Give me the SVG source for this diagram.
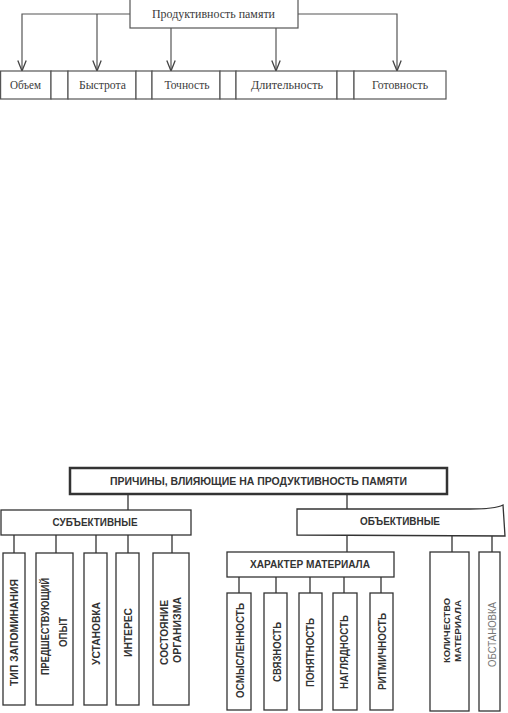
<svg xmlns="http://www.w3.org/2000/svg" width="508" height="713" viewBox="0 0 508 713">
<defs>
<marker id="arr" markerWidth="12" markerHeight="10" refX="11" refY="5" orient="auto" markerUnits="userSpaceOnUse" viewBox="0 0 12 10">
<path d="M0.5,0.8 L11,5 L0.5,9.2" fill="none" stroke="#444" stroke-width="1.3"/>
</marker>
</defs>
<style>
.b1{fill:#fff;stroke:#555;stroke-width:1.2}
.t1{font-family:"Liberation Serif",serif;font-size:12px;fill:#3a3a3a;text-anchor:middle}
.b2{fill:#fff;stroke:#333;stroke-width:1.3}
.t2{font-family:"Liberation Sans",Arial,sans-serif;font-weight:bold;font-size:10.5px;fill:#333;text-anchor:middle}
.c1{fill:none;stroke:#555;stroke-width:1.2}
.c2{fill:none;stroke:#333;stroke-width:1.3}
</style>
<rect width="508" height="713" fill="#fff"/>

<g id="connectors">
<path class="c1" d="M130,14 H22 V71" marker-end="url(#arr)"/>
<path class="c1" d="M97,14 V71" marker-end="url(#arr)"/>
<path class="c1" d="M171,28 V71" marker-end="url(#arr)"/>
<path class="c1" d="M276,28 V71" marker-end="url(#arr)"/>
<path class="c1" d="M298,14 H397 V71" marker-end="url(#arr)"/>

<path class="c2" d="M128,494 V510"/>
<path class="c2" d="M347,494 V509"/>
<path class="c2" d="M14,535 V553 M56,535 V553 M96,535 V553 M128,535 V553 M172,535 V553"/>
<path class="c2" d="M347,535 V552 M452,535 V552 M492,535 V552"/>
<path class="c2" d="M239,577 V593 M276,577 V593 M310,577 V593 M344,577 V593 M381,577 V593"/>
</g>

<g id="productivity">
<rect class="b1" x="130" y="-1" width="168" height="29"/>
<text class="t1" x="213.5" y="18" textLength="123" lengthAdjust="spacingAndGlyphs">Продуктивность памяти</text>
</g>
<g id="volume"><rect class="b1" x="0.6" y="71" width="50.4" height="28"/><text class="t1" x="25.5" y="89" textLength="31" lengthAdjust="spacingAndGlyphs">Объем</text></g>
<g id="gap1"><rect class="b1" x="51" y="71" width="17" height="28"/></g>
<g id="speed"><rect class="b1" x="68" y="71" width="68" height="28"/><text class="t1" x="102.5" y="89" textLength="47" lengthAdjust="spacingAndGlyphs">Быстрота</text></g>
<g id="gap2"><rect class="b1" x="136" y="71" width="16" height="28"/></g>
<g id="accuracy"><rect class="b1" x="152" y="71" width="68" height="28"/><text class="t1" x="187" y="89" textLength="45" lengthAdjust="spacingAndGlyphs">Точность</text></g>
<g id="gap3"><rect class="b1" x="220" y="71" width="16" height="28"/></g>
<g id="duration"><rect class="b1" x="236" y="71" width="101" height="28"/><text class="t1" x="287" y="89" textLength="72" lengthAdjust="spacingAndGlyphs">Длительность</text></g>
<g id="gap4"><rect class="b1" x="337" y="71" width="17" height="28"/></g>
<g id="readiness"><rect class="b1" x="354" y="71" width="92" height="28"/><text class="t1" x="400" y="89" textLength="56" lengthAdjust="spacingAndGlyphs">Готовность</text></g>

<g id="causes">
<rect fill="#fff" stroke="#333" stroke-width="2.5" x="70" y="468" width="377" height="26"/>
<text class="t2" x="258.5" y="484.5" style="font-size:10px" textLength="297" lengthAdjust="spacingAndGlyphs">ПРИЧИНЫ, ВЛИЯЮЩИЕ НА ПРОДУКТИВНОСТЬ ПАМЯТИ</text>
</g>
<g id="subjective">
<rect class="b2" x="1" y="510" width="190" height="25"/>
<text class="t2" x="95" y="526" style="font-size:10.5px" textLength="85" lengthAdjust="spacingAndGlyphs">СУБЪЕКТИВНЫЕ</text>
</g>
<g id="objective">
<path class="b2" d="M297,509 L470,509 Q495,509 503,505 L505,536 L297,535 Z"/>
<text class="t2" x="400" y="525" style="font-size:10px" textLength="80" lengthAdjust="spacingAndGlyphs">ОБЪЕКТИВНЫЕ</text>
</g>

<g id="memtype"><rect class="b2" x="3" y="553" width="22" height="152"/>
<text class="t2" transform="translate(18,632.5) rotate(-90)" textLength="107" lengthAdjust="spacingAndGlyphs">ТИП ЗАПОМИНАНИЯ</text></g>
<g id="experience"><rect class="b2" x="36" y="553" width="37" height="152"/>
<text class="t2" transform="translate(49,626.5) rotate(-90)" textLength="97" lengthAdjust="spacingAndGlyphs">ПРЕДШЕСТВУЮЩИЙ</text>
<text class="t2" transform="translate(67,632) rotate(-90)" textLength="30" lengthAdjust="spacingAndGlyphs">ОПЫТ</text></g>
<g id="setting"><rect class="b2" x="84" y="553" width="23" height="152"/>
<text class="t2" transform="translate(100,633.5) rotate(-90)" textLength="63" lengthAdjust="spacingAndGlyphs">УСТАНОВКА</text></g>
<g id="interest"><rect class="b2" x="116" y="553" width="23" height="152"/>
<text class="t2" transform="translate(132,632.5) rotate(-90)" textLength="49" lengthAdjust="spacingAndGlyphs">ИНТЕРЕС</text></g>
<g id="state"><rect class="b2" x="153" y="553" width="36" height="152"/>
<text class="t2" transform="translate(167.5,632.5) rotate(-90)" textLength="65" lengthAdjust="spacingAndGlyphs">СОСТОЯНИЕ</text>
<text class="t2" transform="translate(180.5,630) rotate(-90)" textLength="66" lengthAdjust="spacingAndGlyphs">ОРГАНИЗМА</text></g>

<g id="material">
<rect class="b2" x="227" y="552" width="167" height="25"/>
<text class="t2" x="310" y="568" style="font-size:10px" textLength="120" lengthAdjust="spacingAndGlyphs">ХАРАКТЕР МАТЕРИАЛА</text>
</g>
<g id="meaning"><rect class="b2" x="227" y="593" width="24" height="117"/>
<text class="t2" transform="translate(244,650.5) rotate(-90)" textLength="95" lengthAdjust="spacingAndGlyphs">ОСМЫСЛЕННОСТЬ</text></g>
<g id="coherence"><rect class="b2" x="264" y="593" width="23" height="117"/>
<text class="t2" transform="translate(281,652) rotate(-90)" textLength="60" lengthAdjust="spacingAndGlyphs">СВЯЗНОСТЬ</text></g>
<g id="clarity"><rect class="b2" x="299" y="593" width="23" height="117"/>
<text class="t2" transform="translate(314,652.5) rotate(-90)" textLength="69" lengthAdjust="spacingAndGlyphs">ПОНЯТНОСТЬ</text></g>
<g id="visual"><rect class="b2" x="333" y="593" width="24" height="117"/>
<text class="t2" transform="translate(348,652) rotate(-90)" textLength="74" lengthAdjust="spacingAndGlyphs">НАГЛЯДНОСТЬ</text></g>
<g id="rhythm"><rect class="b2" x="370" y="593" width="23" height="117"/>
<text class="t2" transform="translate(386,651.5) rotate(-90)" textLength="77" lengthAdjust="spacingAndGlyphs">РИТМИЧНОСТЬ</text></g>

<g id="amount"><rect class="b2" x="430" y="552" width="39" height="159"/>
<text class="t2" style="font-size:9.5px" transform="translate(450,630.5) rotate(-90)" textLength="65" lengthAdjust="spacingAndGlyphs">КОЛИЧЕСТВО</text>
<text class="t2" style="font-size:9.5px" transform="translate(461,631) rotate(-90)" textLength="62" lengthAdjust="spacingAndGlyphs">МАТЕРИАЛА</text></g>
<g id="setting2"><rect class="b2" x="479" y="552" width="21" height="159"/>
<text class="t2" style="fill:#777;font-weight:normal" transform="translate(496,634.5) rotate(-90)" textLength="65" lengthAdjust="spacingAndGlyphs">ОБСТАНОВКА</text></g>
</svg>
